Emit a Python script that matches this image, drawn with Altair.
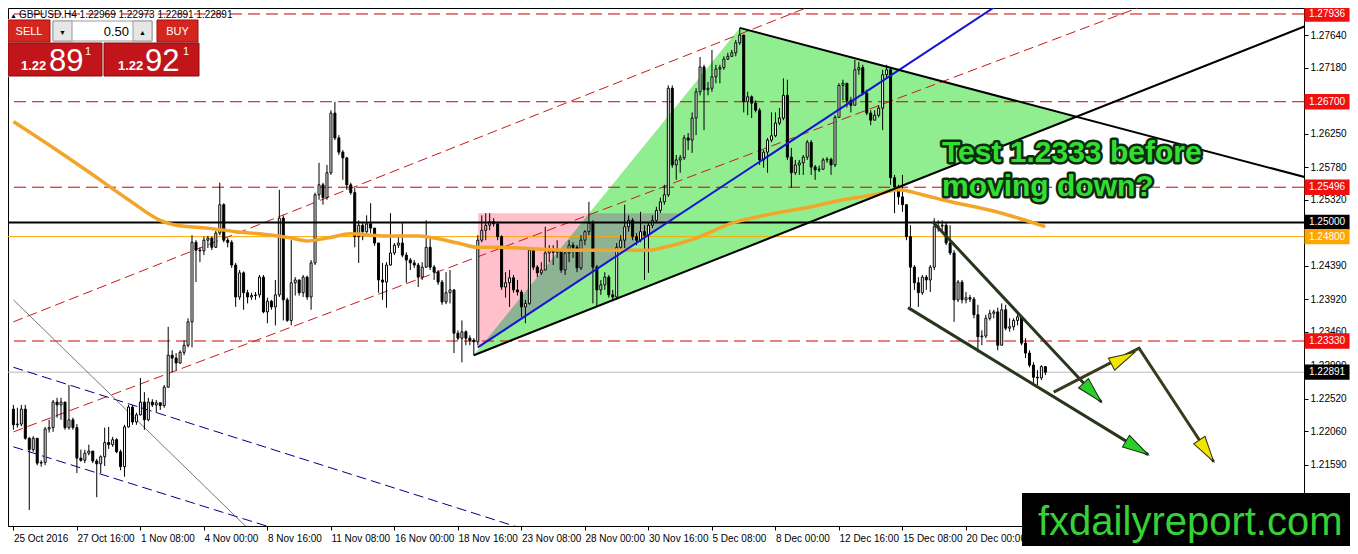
import json
import altair as alt
import numpy as np
import pandas as pd

# ---------------- data ----------------
first_open = 1.2237
closes = [
    1.2215, 1.2216, 1.2237, 1.2196, 1.2180, 1.2196, 1.2161, 1.2162, 1.2209, 1.2211,
    1.2247, 1.2243, 1.2247, 1.2211, 1.2222, 1.2211, 1.2168, 1.2165, 1.2175, 1.2178,
    1.2164, 1.2160, 1.2170, 1.2190, 1.2187, 1.2194, 1.2177, 1.2156, 1.2212, 1.2240,
    1.2219, 1.2229, 1.2247, 1.2222, 1.2247, 1.2243, 1.2246, 1.2242, 1.2268, 1.2313,
    1.2309, 1.2302, 1.2317, 1.2327, 1.2360, 1.2472, 1.2461, 1.2460, 1.2475, 1.2478,
    1.2465, 1.2485, 1.2525, 1.2475, 1.2472, 1.2440, 1.2395, 1.2429, 1.2401, 1.2395,
    1.2397, 1.2398, 1.2423, 1.2374, 1.2389, 1.2381, 1.2398, 1.2506, 1.2391, 1.2362,
    1.2415, 1.2419, 1.2401, 1.2423, 1.2395, 1.2443, 1.2539, 1.2553, 1.2535, 1.2570,
    1.2654, 1.2619, 1.2599, 1.2591, 1.2553, 1.2542, 1.2480, 1.2496, 1.2487, 1.2498,
    1.2492, 1.2471, 1.2419, 1.2416, 1.2440, 1.2457, 1.2468, 1.2471, 1.2454, 1.2447,
    1.2443, 1.2440, 1.2423, 1.2437, 1.2465, 1.2437, 1.2430, 1.2416, 1.2388, 1.2401,
    1.2405, 1.2344, 1.2337, 1.2346, 1.2337, 1.2334, 1.2332, 1.2475, 1.2489, 1.2496,
    1.2501, 1.2498, 1.2480, 1.2409, 1.2415, 1.2422, 1.2405, 1.2402, 1.2381, 1.2386,
    1.2461, 1.2437, 1.2429, 1.2433, 1.2457, 1.2461, 1.2458, 1.2461, 1.2433, 1.2457,
    1.2468, 1.2465, 1.2436, 1.2475, 1.2487, 1.2499, 1.2437, 1.2405, 1.2412, 1.2423,
    1.2398, 1.2395, 1.2465, 1.2475, 1.2494, 1.2503, 1.2480, 1.2475, 1.2487, 1.2482,
    1.2496, 1.2503, 1.2517, 1.2529, 1.2539, 1.2689, 1.2581, 1.2588, 1.2591, 1.2619,
    1.2616, 1.2647, 1.2684, 1.2719, 1.2687, 1.2689, 1.2705, 1.2716, 1.2718, 1.2730,
    1.2734, 1.2739, 1.2753, 1.2764, 1.2670, 1.2677, 1.2668, 1.2658, 1.2588, 1.2599,
    1.2616, 1.2622, 1.2640, 1.2647, 1.2679, 1.2592, 1.2570, 1.2581, 1.2584, 1.2592,
    1.2613, 1.2578, 1.2574, 1.2575, 1.2588, 1.2589, 1.2581, 1.2648, 1.2693, 1.2696,
    1.2672, 1.2665, 1.2715, 1.2718, 1.2682, 1.2654, 1.2644, 1.2651, 1.2661, 1.2708,
    1.2715, 1.2563, 1.2550, 1.2536, 1.2525, 1.2480, 1.2437, 1.2415, 1.2401, 1.2423,
    1.2419, 1.2437, 1.2494, 1.2495, 1.2496, 1.2471, 1.2457, 1.2391, 1.2416, 1.2391,
    1.2394, 1.2392, 1.2370, 1.2339, 1.2340, 1.2365, 1.2372, 1.2374, 1.2327, 1.2377,
    1.2351, 1.2353, 1.2362, 1.2367, 1.2330, 1.2316, 1.2299, 1.2282, 1.2281, 1.2297,
    1.2289,
]
highs = [
    1.2243, 1.2239, 1.2243, 1.2243, 1.2198, 1.2199, 1.2194, 1.2165, 1.2212, 1.2222,
    1.2250, 1.2253, 1.2253, 1.2229, 1.2271, 1.2225, 1.2216, 1.2180, 1.2180, 1.2187,
    1.2177, 1.2167, 1.2172, 1.2211, 1.2212, 1.2198, 1.2196, 1.2180, 1.2215, 1.2243,
    1.2243, 1.2232, 1.2281, 1.2261, 1.2253, 1.2251, 1.2250, 1.2244, 1.2271, 1.2353,
    1.2320, 1.2316, 1.2320, 1.2334, 1.2365, 1.2482, 1.2475, 1.2465, 1.2480, 1.2481,
    1.2480, 1.2488, 1.2556, 1.2527, 1.2478, 1.2475, 1.2443, 1.2433, 1.2431, 1.2405,
    1.2401, 1.2402, 1.2426, 1.2426, 1.2394, 1.2391, 1.2419, 1.2546, 1.2510, 1.2394,
    1.2475, 1.2423, 1.2419, 1.2426, 1.2425, 1.2447, 1.2542, 1.2584, 1.2556, 1.2581,
    1.2658, 1.2670, 1.2623, 1.2602, 1.2592, 1.2556, 1.2549, 1.2503, 1.2501, 1.2510,
    1.2527, 1.2492, 1.2471, 1.2443, 1.2444, 1.2513, 1.2471, 1.2482, 1.2499, 1.2458,
    1.2450, 1.2447, 1.2443, 1.2444, 1.2503, 1.2480, 1.2440, 1.2433, 1.2419, 1.2430,
    1.2433, 1.2405, 1.2348, 1.2362, 1.2348, 1.2341, 1.2337, 1.2482, 1.2510, 1.2513,
    1.2513, 1.2506, 1.2501, 1.2482, 1.2430, 1.2433, 1.2426, 1.2419, 1.2405, 1.2391,
    1.2464, 1.2461, 1.2440, 1.2444, 1.2494, 1.2468, 1.2468, 1.2475, 1.2461, 1.2461,
    1.2475, 1.2472, 1.2468, 1.2482, 1.2489, 1.2529, 1.2503, 1.2440, 1.2419, 1.2430,
    1.2426, 1.2405, 1.2471, 1.2482, 1.2525, 1.2510, 1.2506, 1.2485, 1.2515, 1.2496,
    1.2501, 1.2510, 1.2522, 1.2535, 1.2553, 1.2693, 1.2693, 1.2595, 1.2595, 1.2623,
    1.2626, 1.2655, 1.2689, 1.2733, 1.2722, 1.2698, 1.2743, 1.2722, 1.2722, 1.2734,
    1.2739, 1.2743, 1.2757, 1.2774, 1.2764, 1.2684, 1.2679, 1.2672, 1.2661, 1.2602,
    1.2619, 1.2655, 1.2655, 1.2661, 1.2703, 1.2701, 1.2605, 1.2588, 1.2588, 1.2595,
    1.2616, 1.2616, 1.2581, 1.2580, 1.2591, 1.2592, 1.2591, 1.2651, 1.2696, 1.2701,
    1.2687, 1.2677, 1.2729, 1.2726, 1.2722, 1.2687, 1.2658, 1.2658, 1.2665, 1.2715,
    1.2722, 1.2718, 1.2567, 1.2553, 1.2567, 1.2525, 1.2496, 1.2440, 1.2423, 1.2426,
    1.2426, 1.2440, 1.2506, 1.2503, 1.2503, 1.2501, 1.2496, 1.2461, 1.2419, 1.2419,
    1.2402, 1.2398, 1.2395, 1.2384, 1.2348, 1.2370, 1.2377, 1.2377, 1.2380, 1.2386,
    1.2384, 1.2365, 1.2365, 1.2372, 1.2365, 1.2337, 1.2320, 1.2303, 1.2292, 1.2299,
    1.2297,
]
lows = [
    1.2208, 1.2211, 1.2213, 1.2194, 1.2095, 1.2177, 1.2158, 1.2156, 1.2158, 1.2204,
    1.2205, 1.2225, 1.2222, 1.2208, 1.2208, 1.2208, 1.2147, 1.2163, 1.2161, 1.2172,
    1.2161, 1.2113, 1.2147, 1.2157, 1.2181, 1.2184, 1.2175, 1.2151, 1.2142, 1.2211,
    1.2215, 1.2215, 1.2228, 1.2208, 1.2220, 1.2240, 1.2232, 1.2236, 1.2239, 1.2267,
    1.2289, 1.2292, 1.2301, 1.2313, 1.2324, 1.2324, 1.2416, 1.2444, 1.2454, 1.2464,
    1.2461, 1.2464, 1.2482, 1.2472, 1.2465, 1.2436, 1.2381, 1.2391, 1.2377, 1.2386,
    1.2391, 1.2391, 1.2394, 1.2372, 1.2358, 1.2377, 1.2355, 1.2395, 1.2362, 1.2360,
    1.2355, 1.2397, 1.2397, 1.2395, 1.2391, 1.2377, 1.2440, 1.2532, 1.2525, 1.2532,
    1.2567, 1.2616, 1.2595, 1.2560, 1.2546, 1.2539, 1.2465, 1.2443, 1.2475, 1.2482,
    1.2485, 1.2467, 1.2401, 1.2391, 1.2380, 1.2439, 1.2454, 1.2464, 1.2451, 1.2415,
    1.2433, 1.2436, 1.2409, 1.2419, 1.2436, 1.2433, 1.2419, 1.2412, 1.2384, 1.2385,
    1.2386, 1.2316, 1.2334, 1.2303, 1.2327, 1.2327, 1.2313, 1.2327, 1.2472, 1.2475,
    1.2489, 1.2494, 1.2475, 1.2405, 1.2394, 1.2381, 1.2401, 1.2397, 1.2367, 1.2358,
    1.2384, 1.2433, 1.2423, 1.2426, 1.2433, 1.2444, 1.2440, 1.2450, 1.2429, 1.2426,
    1.2444, 1.2450, 1.2430, 1.2433, 1.2468, 1.2482, 1.2386, 1.2381, 1.2398, 1.2405,
    1.2394, 1.2391, 1.2391, 1.2458, 1.2464, 1.2487, 1.2475, 1.2468, 1.2472, 1.2419,
    1.2429, 1.2492, 1.2501, 1.2513, 1.2525, 1.2536, 1.2577, 1.2560, 1.2570, 1.2588,
    1.2602, 1.2598, 1.2623, 1.2679, 1.2630, 1.2679, 1.2684, 1.2696, 1.2696, 1.2715,
    1.2729, 1.2733, 1.2734, 1.2750, 1.2655, 1.2651, 1.2647, 1.2655, 1.2581, 1.2577,
    1.2570, 1.2613, 1.2620, 1.2637, 1.2644, 1.2588, 1.2549, 1.2567, 1.2567, 1.2567,
    1.2588, 1.2567, 1.2560, 1.2571, 1.2574, 1.2584, 1.2567, 1.2578, 1.2648, 1.2672,
    1.2662, 1.2655, 1.2665, 1.2708, 1.2679, 1.2651, 1.2637, 1.2644, 1.2648, 1.2630,
    1.2703, 1.2553, 1.2513, 1.2525, 1.2515, 1.2475, 1.2381, 1.2405, 1.2381, 1.2398,
    1.2405, 1.2402, 1.2433, 1.2487, 1.2487, 1.2468, 1.2454, 1.2360, 1.2388, 1.2386,
    1.2386, 1.2388, 1.2365, 1.2317, 1.2327, 1.2337, 1.2362, 1.2365, 1.2320, 1.2327,
    1.2348, 1.2346, 1.2348, 1.2355, 1.2327, 1.2309, 1.2296, 1.2274, 1.2271, 1.2278,
    1.2285,
]

x_tick_labels = ["25 Oct 2016", "27 Oct 16:00", "1 Nov 08:00", "4 Nov 00:00", "8 Nov 16:00",
                 "11 Nov 08:00", "16 Nov 00:00", "18 Nov 16:00", "23 Nov 08:00", "28 Nov 00:00",
                 "30 Nov 16:00", "5 Dec 08:00", "8 Dec 00:00", "12 Dec 16:00", "15 Dec 08:00",
                 "20 Dec 00:00"]
bars_per_label = 16
y_ticks = [1.27640, 1.27180, 1.26710, 1.26250, 1.25780, 1.25320, 1.24850, 1.24390,
           1.23920, 1.23460, 1.22990, 1.22520, 1.22060, 1.21590, 1.21130]

red_levels = [1.27936, 1.26700, 1.25496, 1.23330]
black_level = 1.25000
orange_level = 1.24800
bid_level = 1.22891

label_values = [1.27936, 1.26700, 1.25496, 1.25000, 1.24800, 1.23330, 1.22891]
label_colors = ["#f01010", "#f01010", "#f01010", "#000000", "#ffa500", "#f01010", "#000000"]

# moving average (read points, bar index / price)
ma_idx = [0, 9, 19, 29, 37, 41, 49, 56, 62, 70, 74, 79, 85, 93, 102, 106, 112, 117, 122,
          139, 152, 160, 164, 172, 181, 192, 201, 209, 217, 223, 229, 234, 249, 260]
ma_val = [1.2642, 1.2609, 1.2571, 1.2532, 1.2503, 1.2496, 1.2492, 1.2487, 1.2484, 1.2478,
          1.2474, 1.2478, 1.2484, 1.2481, 1.2481, 1.2478, 1.2471, 1.2465, 1.2465, 1.2461,
          1.2461, 1.2461, 1.2465, 1.2478, 1.2499, 1.2513, 1.2522, 1.2532, 1.2539, 1.2546,
          1.2539, 1.2532, 1.2513, 1.2494]

# drawn objects: (bar index, price)
red_diag = [[(0, 1.2360), (206, 1.2816)], [(0, 1.2205), (287, 1.2810)]]
blue_dash = [[(0, 1.2296), (130.4, 1.2065)], [(0, 1.2184), (68.6, 1.2064)]]
gray_line = [(0, 1.2391), (60, 1.2064)]
blue_solid = [(117, 1.2324), (249, 1.2810)]
black_up = [(116, 1.2313), (328, 1.2782)]
black_down = [(183, 1.2774), (328, 1.2560)]
triangle = [(116, 1.2313), (183, 1.2774), (268, 1.2649)]
pink_left = 117.1
pink_top = 1.2513
wedge_upper = [(231.6, 1.2501), (274.1, 1.2247)]
wedge_lower = [(225.4, 1.2380), (285.9, 1.2173)]
projection = [(262.1, 1.2261), (283.6, 1.2323), (302.4, 1.2163)]
yellow_tip1 = (282.5, 1.2317)

# ---------------- geometry of the view ----------------
W, H = 1296, 518
RPAD = 46
X_DOM = [-0.1, 323.9]
Y_DOM = [1.207245, 1.280203]
px_bar = W / (X_DOM[1] - X_DOM[0])
px_price = H / (Y_DOM[1] - Y_DOM[0])
FONT = "Liberation Sans"

xs = alt.Scale(domain=X_DOM, nice=False, zero=False)
ys = alt.Scale(domain=Y_DOM, nice=False, zero=False)
label_expr = json.dumps(x_tick_labels) + "[round(datum.value/%d)]" % bars_per_label
xaxis = alt.Axis(values=[k * bars_per_label for k in range(len(x_tick_labels))], labelExpr=label_expr,
                 title=None, orient="bottom", labelAlign="left", labelPadding=3, tickSize=4,
                 tickColor="black", domainColor="black", labelColor="black", labelFont=FONT,
                 labelFontSize=10, grid=False, zindex=0, labelOverlap=False, labelFlush=False,
                 labelBound=False)
yaxis = alt.Axis(values=y_ticks, format=".5f", orient="right", title=None, tickSize=4,
                 tickColor="black", domainColor="black", labelColor="black", labelFont=FONT,
                 labelFontSize=10, labelPadding=2, grid=False, zindex=0, labelOverlap=False,
                 labelFlush=False, labelBound=False)


def X(f):
    return alt.X(f, type="quantitative", scale=xs, axis=xaxis)


def Y(f):
    return alt.Y(f, type="quantitative", scale=ys, axis=yaxis)


def seg_df(lines):
    rows = []
    for k, pts in enumerate(lines):
        for (i, p) in pts:
            rows.append({"i": i, "p": p, "seg": k})
    return pd.DataFrame(rows)


def line_layer(lines, color, width, dash=None, interp="linear"):
    kw = dict(color=color, strokeWidth=width, clip=True, interpolate=interp)
    if dash:
        kw["strokeDash"] = dash
    return alt.Chart(seg_df(lines)).mark_line(**kw).encode(
        x=X("i"), y=Y("p"), detail="seg:N", order="o:Q"
    ).transform_calculate(o="datum.i")


one = pd.DataFrame({"k": [0]})

# ---------------- candles ----------------
n = len(closes)
opens = [first_open] + closes[:-1]
cd = pd.DataFrame({"i": np.arange(n), "o": opens, "c": closes, "h": highs, "l": lows})
cd["h"] = cd[["h", "o", "c"]].max(axis=1)
cd["l"] = cd[["l", "o", "c"]].min(axis=1)
cd["lo_b"] = cd[["o", "c"]].min(axis=1)
cd["hi_b"] = cd[["o", "c"]].max(axis=1)
cd["dir"] = np.where(cd["c"] >= cd["o"], "up", "down")

wicks = alt.Chart(cd).mark_rule(color="black", strokeWidth=1).encode(
    x=X("i"), y=Y("l"), y2=alt.Y2("h"))
bodies = alt.Chart(cd).mark_bar(size=2, stroke="black", strokeWidth=1).encode(
    x=X("i"), y=Y("lo_b"), y2=alt.Y2("hi_b"),
    fill=alt.Fill("dir:N", scale=alt.Scale(domain=["up", "down"], range=["white", "black"]), legend=None))

# ---------------- filled objects ----------------
tx = [v[0] for v in triangle]
tp = [v[1] for v in triangle]
tri_lower = np.interp(tx, [triangle[0][0], triangle[2][0]], [triangle[0][1], triangle[2][1]])
tri_df = pd.DataFrame({"i": tx, "p": tp, "p2": tri_lower})
green = alt.Chart(tri_df).mark_area(color="#90ee90", opacity=1).encode(x=X("i"), y=Y("p"), y2=alt.Y2("p2"))


def blue_at(x):
    return np.interp(x, [blue_solid[0][0], blue_solid[1][0]], [blue_solid[0][1], blue_solid[1][1]],
                     left=blue_solid[0][1])


# pink triangle: left side at pink_left, top at pink_top, hypotenuse along the blue line
slope_b = (blue_solid[1][1] - blue_solid[0][1]) / (blue_solid[1][0] - blue_solid[0][0])
pink_right = blue_solid[0][0] + (pink_top - blue_solid[0][1]) / slope_b
px_ = np.linspace(pink_left, pink_right, 200)
pink_df = pd.DataFrame({"i": px_, "p": pink_top, "p2": blue_at(px_)})
pink = alt.Chart(pink_df).mark_area(color="#ffc0cb", opacity=1).encode(
    x=X("i"), y=Y("p"), y2=alt.Y2("p2"))

gx = np.linspace(pink_left, pink_right, 400)
left_edge = np.interp(gx, [triangle[0][0], triangle[1][0]], [triangle[0][1], triangle[1][1]])
bottom_edge = np.interp(gx, [triangle[0][0], triangle[2][0]], [triangle[0][1], triangle[2][1]])
ov_up = np.minimum(pink_top, left_edge)
ov_lo = np.maximum(blue_at(gx), bottom_edge)
keep = ov_up > ov_lo
ov_df = pd.DataFrame({"i": gx[keep], "p": ov_up[keep], "p2": ov_lo[keep]})
overlap = alt.Chart(ov_df).mark_area(color="#8db394", opacity=1).encode(x=X("i"), y=Y("p"), y2=alt.Y2("p2"))

# ---------------- horizontal levels ----------------
red_h = alt.Chart(pd.DataFrame({"p": red_levels})).mark_rule(
    color="#d00000", strokeWidth=1, strokeDash=[12, 6]).encode(y=Y("p"))
black_h = alt.Chart(pd.DataFrame({"p": [black_level]})).mark_rule(color="black", strokeWidth=2).encode(y=Y("p"))
orange_h = alt.Chart(pd.DataFrame({"p": [orange_level]})).mark_rule(color="#ffa500", strokeWidth=1).encode(y=Y("p"))
bid_h = alt.Chart(pd.DataFrame({"p": [bid_level]})).mark_rule(color="#b8b8b8", strokeWidth=1).encode(y=Y("p"))

# ---------------- slanted lines ----------------
red_d = line_layer(red_diag, "#cc1a1a", 1, [10, 5])
blue_d = line_layer(blue_dash, "#00008b", 1, [10, 5])
gray_l = line_layer([gray_line], "#555555", 0.8)
blue_s = line_layer([blue_solid], "#1414d2", 2)
black_u = line_layer([black_up], "black", 2)
black_dn = line_layer([black_down], "black", 2)

ma_df = pd.DataFrame({"i": ma_idx, "p": ma_val})
ma = alt.Chart(ma_df).mark_line(color="#f3a52a", strokeWidth=3.5, clip=True, interpolate="monotone").encode(
    x=X("i"), y=Y("p"))

wedge = line_layer([wedge_upper, wedge_lower], "#27361c", 3)
proj = line_layer([projection], "#3a3a1c", 3)


def head_angle(a, b):
    dx = (b[0] - a[0]) * px_bar
    dy = -(b[1] - a[1]) * px_price
    return float(np.degrees(np.arctan2(dx, -dy)) % 360)


ARROW = "M0,0L-0.26,1L0.26,1Z"
green_heads = pd.DataFrame({
    "i": [wedge_upper[1][0], wedge_lower[1][0]],
    "p": [wedge_upper[1][1], wedge_lower[1][1]],
    "ang": [head_angle(*wedge_upper), head_angle(*wedge_lower)]})
yellow_heads = pd.DataFrame({
    "i": [yellow_tip1[0], projection[2][0]],
    "p": [yellow_tip1[1], projection[2][1]],
    "ang": [head_angle(projection[0], projection[1]), head_angle(projection[1], projection[2])]})
gh = alt.Chart(green_heads).mark_point(shape=ARROW, filled=True, fill="#2ad02a", stroke="#1c2c12",
                                       strokeWidth=1, size=2700, opacity=1).encode(
    x=X("i"), y=Y("p"), angle=alt.Angle("ang:Q", scale=None))
yh = alt.Chart(yellow_heads).mark_point(shape=ARROW, filled=True, fill="#f2e600", stroke="#2c2c12",
                                        strokeWidth=1, size=2700, opacity=1).encode(
    x=X("i"), y=Y("p"), angle=alt.Angle("ang:Q", scale=None))

# ---------------- annotation text ----------------
note_lines = ["Test 1.2333 before", "moving down?"]
note_layers = []
for k, t in enumerate(note_lines):
    yy = 154 + 34 * k
    note_layers.append(alt.Chart(one).mark_text(
        text=t, font=FONT, fontSize=30, fontWeight="bold", align="left", baseline="alphabetic",
        fill="#0f2a0f", stroke="#0f2a0f", strokeWidth=5, strokeJoin="round").encode(
        x=alt.value(934), y=alt.value(yy)))
    note_layers.append(alt.Chart(one).mark_text(
        text=t, font=FONT, fontSize=30, fontWeight="bold", align="left", baseline="alphabetic",
        fill="#33de33").encode(x=alt.value(934), y=alt.value(yy)))

# ---------------- price labels on the right ----------------
lab_df = pd.DataFrame({"p": label_values, "col": label_colors,
                       "txt": ["%.5f" % v for v in label_values]})
lab_box = alt.Chart(lab_df).mark_point(shape="M-1,-0.34L1,-0.34L1,0.34L-1,0.34Z", filled=True,
                                       size=RPAD * RPAD - 80, opacity=1, strokeWidth=0).encode(
    x=alt.value(W + RPAD / 2), y=Y("p"), fill=alt.Fill("col:N", scale=None))
lab_txt = alt.Chart(lab_df).mark_text(align="left", baseline="middle", color="white", font=FONT,
                                      fontSize=10).encode(x=alt.value(W + 5), y=Y("p"), text="txt:N")


# ---------------- header and trade panel ----------------
def rect(x1, x2, y1, y2, fill, stroke=None):
    kw = dict(fill=fill)
    if stroke:
        kw.update(stroke=stroke, strokeWidth=1)
    return alt.Chart(one).mark_rect(**kw).encode(
        x=alt.value(x1), x2=alt.value(x2), y=alt.value(y1), y2=alt.value(y2))


def txt(t, x, y, size, color="white", align="left", weight="normal", baseline="alphabetic"):
    return alt.Chart(one).mark_text(text=t, font=FONT, fontSize=size, color=color, align=align,
                                    fontWeight=weight, baseline=baseline).encode(
        x=alt.value(x), y=alt.value(y))


header = [
    txt("\u25b2", 2, 10, 7, color="black"),
    txt("GBPUSD.H4  1.22969 1.22973 1.22891 1.22891", 11, 10, 10, color="black"),
]
panel = [
    rect(0, 192, 11, 69, "white"),
    rect(0, 42, 12, 34, "#d5261e", "#9c1010"),
    rect(45, 144, 13, 33, "white", "#9a9a9a"),
    rect(45, 64, 13, 33, "#e6e6e6", "#9a9a9a"),
    rect(125, 144, 13, 33, "#e6e6e6", "#9a9a9a"),
    rect(149, 190, 12, 34, "#d5261e", "#9c1010"),
    rect(0, 94, 35, 68, "#c1151b", "#8a0c0c"),
    rect(96, 191, 35, 68, "#c1151b", "#8a0c0c"),
    txt("SELL", 21, 27, 11, align="center"),
    txt("BUY", 169.5, 27, 11, align="center"),
    txt("0.50", 121, 28, 13, color="black", align="right"),
    txt("\u25bc", 54.5, 27, 7, color="black", align="center"),
    txt("\u25b2", 134.5, 27, 7, color="black", align="center"),
    txt("1.22", 13, 62, 13, weight="bold"),
    txt("89", 41, 63, 31),
    txt("1", 77, 47, 11),
    txt("1.22", 110, 62, 13, weight="bold"),
    txt("92", 137, 63, 31),
    txt("1", 175, 47, 11),
]
brand = [
    rect(1014, W + RPAD, 485, 538, "black"),
    txt("fxdailyreport.com", 1030, 527, 40, color="#38d038"),
]

layers = [green, pink, overlap, red_h, orange_h, bid_h, red_d, blue_d, gray_l,
          wicks, bodies, black_h, ma, blue_s, black_u, black_dn, wedge, proj, gh, yh] + \
         note_layers + [lab_box, lab_txt] + header + panel + brand

chart = alt.layer(*layers).properties(
    width=W, height=H,
    autosize=alt.AutoSizeParams(type="none"),
    padding={"left": 0, "top": 0, "right": RPAD, "bottom": 20},
    background="white",
).configure_view(stroke="black", strokeWidth=1)

chart.save("out.html", embed_options={"renderer": "svg", "actions": False})
